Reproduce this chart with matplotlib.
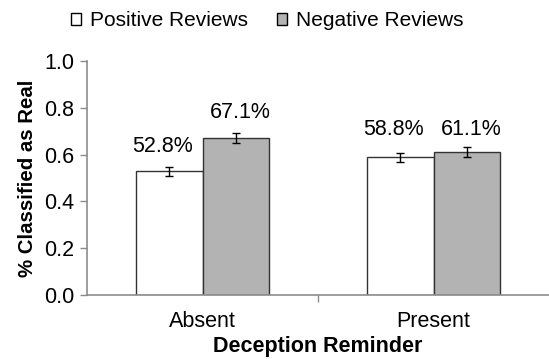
import matplotlib
matplotlib.use("Agg")
import matplotlib.pyplot as plt
import numpy as np
from matplotlib.patches import Patch

plt.rcParams['font.family'] = ['Liberation Sans', 'DejaVu Sans']

categories = ["Absent", "Present"]
series_names = ["Positive Reviews", "Negative Reviews"]
positive = [0.528, 0.588]
negative = [0.671, 0.611]
positive_err = [0.019, 0.020]
negative_err = [0.021, 0.020]
y_ticks = [0.0, 0.2, 0.4, 0.6, 0.8, 1.0]

fig = plt.figure(figsize=(5.49, 3.59), dpi=100)
ax = fig.add_axes([87 / 549, 1 - 295 / 359, 462 / 549, 234 / 359])

x = np.arange(len(categories))
w = 0.286
edge = "#333333"
axis_gray = "#8c8c8c"
fs = 15.5

ax.bar(x - w / 2, positive, w, color="white", edgecolor=edge, linewidth=1.0, zorder=2)
ax.bar(x + w / 2, negative, w, color="#b3b3b3", edgecolor=edge, linewidth=1.0, zorder=2)
ax.errorbar(x - w / 2, positive, yerr=positive_err, fmt="none", ecolor="black",
            elinewidth=1.0, capsize=3, capthick=1.0, zorder=3)
ax.errorbar(x + w / 2, negative, yerr=negative_err, fmt="none", ecolor="black",
            elinewidth=1.0, capsize=3, capthick=1.0, zorder=3)

# value labels: absent labels float above their own bar, present labels share a row
for i in range(len(categories)):
    if i == 0:
        yp, yn = positive[i] + 0.108, negative[i] + 0.107
    else:
        row = max(positive[i], negative[i]) + 0.098
        yp = yn = row
    ax.text(x[i] - w / 2 - 0.03, yp, f"{positive[i] * 100:.1f}%", ha="center", va="center", fontsize=fs)
    ax.text(x[i] + w / 2 + 0.02, yn, f"{negative[i] * 100:.1f}%", ha="center", va="center", fontsize=fs)

ax.set_xlim(-0.5, 1.5)
ax.set_ylim(0, 1.0)
ax.set_yticks(y_ticks)
ax.set_yticklabels([f"{t:.1f}" for t in y_ticks], fontsize=fs)
ax.set_xticks([0.5])
ax.set_xticklabels([""])
ax.tick_params(axis="x", direction="out", length=5, color=axis_gray, width=1)
ax.tick_params(axis="y", direction="out", length=5, color=axis_gray, width=1, pad=4)
for i, c in enumerate(categories):
    ax.text(x[i], -0.112, c, ha="center", va="center", fontsize=fs)

for s in ["top", "right"]:
    ax.spines[s].set_visible(False)
for s in ["left", "bottom"]:
    ax.spines[s].set_color(axis_gray)
    ax.spines[s].set_linewidth(1.2)

ax.set_ylabel("% Classified as Real", fontsize=14.7, fontweight="bold", labelpad=5)
ax.set_xlabel("Deception Reminder", fontsize=15.5, fontweight="bold", labelpad=21)

handles = [Patch(facecolor="white", edgecolor="black", linewidth=1.0),
           Patch(facecolor="#b3b3b3", edgecolor="black", linewidth=1.0)]
fig.legend(handles, series_names, loc="center", bbox_to_anchor=(267 / 549, 1 - 21 / 359),
           ncol=2, frameon=False, fontsize=15, handlelength=0.48, handleheight=0.48,
           handletextpad=0.43, columnspacing=1.4, borderpad=0)

fig.savefig("out.png", dpi=100)
